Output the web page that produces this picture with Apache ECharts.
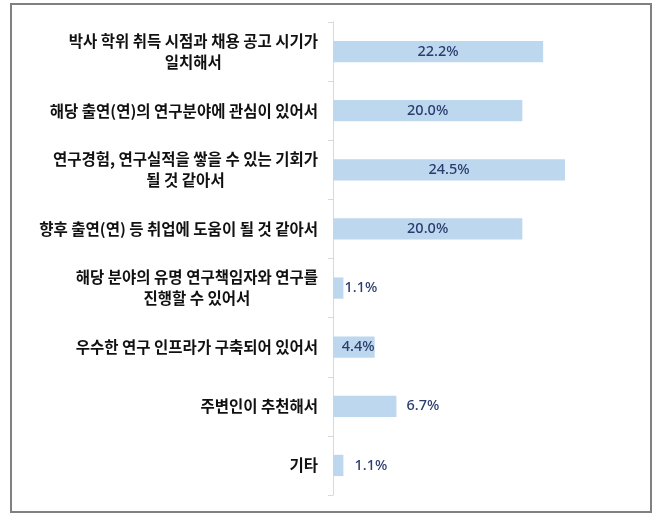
<!DOCTYPE html>
<html><head><meta charset="utf-8">
<script src="https://cdn.jsdelivr.net/npm/echarts@6/dist/echarts.min.js"></script>
<style>html,body{margin:0;padding:0;background:#fff}#c{width:661px;height:526px}</style>
</head><body><div id="c"></div>
<script>
var categories = [
  "박사 학위 취득 시점과 채용 공고 시기가\n일치해서",
  "해당 출연(연)의 연구분야에 관심이 있어서",
  "연구경험, 연구실적을 쌓을 수 있는 기회가\n될 것 같아서",
  "향후 출연(연) 등 취업에 도움이 될 것 같아서",
  "해당 분야의 유명 연구책임자와 연구를\n진행할 수 있어서",
  "우수한 연구 인프라가 구축되어 있어서",
  "주변인이 추천해서",
  "기타"
];
var values = [22.2, 20.0, 24.5, 20.0, 1.1, 4.4, 6.7, 1.1];

var labelPlacement = [
  {position:'inside'},{position:'inside'},{position:'inside'},{position:'inside'},
  {position:'right',distance:1},{position:'insideRight',distance:0},
  {position:'right',distance:10},{position:'right',distance:11}
];

var chart = echarts.init(document.getElementById('c'));
chart.setOption({
  animation:false,
  graphic:[{type:'rect',shape:{x:11,y:4,width:640,height:508},style:{fill:'none',stroke:'#808080',lineWidth:2},z:-1}],
  grid:{left:333,top:22,width:284,height:473},
  xAxis:{type:'value',min:0,max:30,show:false},
  yAxis:{type:'category',inverse:true,data:categories,
    axisLine:{lineStyle:{color:'#d9d9d9',width:1}},
    axisTick:{show:true,length:5,lineStyle:{color:'#d9d9d9'}},
    axisLabel:{margin:15,align:'right',
      formatter:function(v){return v.split('\n').map(function(s){return '{c|'+s+'}';}).join('\n');},
      rich:{c:{align:'center',fontFamily:'Noto Sans CJK KR',fontWeight:'bold',fontSize:15.5,color:'#111',lineHeight:21}}
    }
  },
  series:[{type:'bar',barWidth:'36%',
    data:values.map(function(v,i){return {value:v,label:labelPlacement[i]};}),
    itemStyle:{color:'#bdd7ee'},
    label:{show:true,formatter:function(p){return p.value.toFixed(1)+'%';},
      fontFamily:'Noto Sans',fontWeight:500,fontSize:14.5,color:'#2a3c6c'}
  }]
});
</script></body></html>
